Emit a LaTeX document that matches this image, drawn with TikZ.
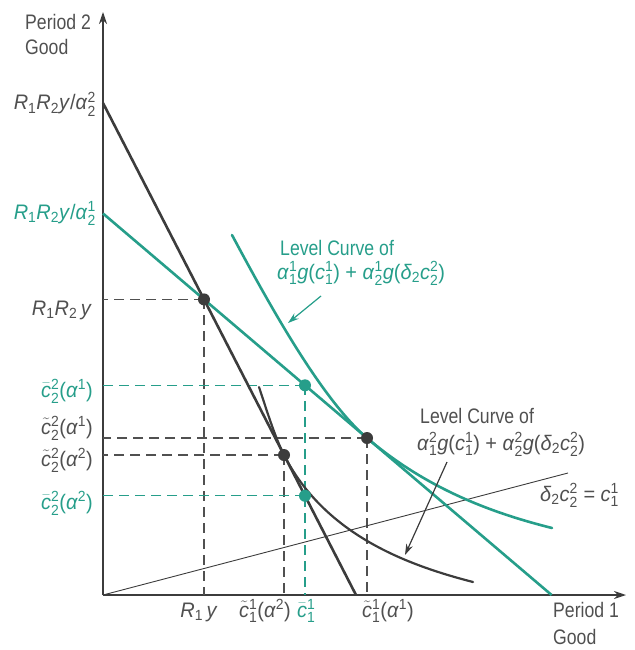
\documentclass[tikz,border=0pt]{standalone}
\usepackage{fontspec}
\usepackage{amsmath}
\setmainfont[FakeStretch=0.84]{Liberation Sans}
\newfontfamily\mfam[FakeStretch=0.95]{Liberation Sans}
\usetikzlibrary{arrows.meta}
\definecolor{tealc}{RGB}{38,158,138}
\definecolor{darkc}{RGB}{60,60,60}
\definecolor{txtc}{RGB}{80,80,80}
\newcommand{\sbx}[1]{\ensuremath{_{\text{#1}}}}
\newcommand{\sps}[2]{\ensuremath{^{\text{#1}}_{\text{#2}}}}
\newcommand{\tc}{\ensuremath{\tilde{\text{\textit{c}}}}}
\newcommand{\bc}{\ensuremath{\bar{\text{\textit{c}}}}}
\newcommand{\al}{\textit{α}}
\begin{document}
\begin{tikzpicture}[x=1pt,y=-1pt,
  lbl/.style={font=\fontsize{21}{23}\selectfont, text=txtc, inner sep=0pt},
  tlbl/.style={lbl, text=tealc},
  mlbl/.style={font=\fontsize{21}{23}\selectfont\mfam, text=txtc, inner sep=0pt},
  tmlbl/.style={mlbl, text=tealc},
  axisline/.style={draw=darkc, line width=1.3pt, -{Stealth[length=12pt,width=8pt]}},
  budget/.style={draw=darkc, line width=2.6pt},
  tbudget/.style={draw=tealc, line width=2.6pt},
  dashk/.style={draw=darkc!90, line width=1.1pt, dash pattern=on 10pt off 6pt},
  dasht/.style={draw=tealc, line width=1.1pt, dash pattern=on 10pt off 6pt},
  dotk/.style={circle, fill=darkc, minimum size=12pt, inner sep=0pt},
  dott/.style={circle, fill=tealc, minimum size=12pt, inner sep=0pt},
  pointer/.style={line width=1.2pt, -{Stealth[length=11pt,width=7pt]}}
]
\useasboundingbox (0,0) rectangle (634,650);
% axes
\coordinate (O) at (103,595);
\coordinate (Ytop) at (103,12);
\coordinate (Xend) at (626,595);
\draw[axisline] (O) -- (Ytop);
\draw[axisline] (O) -- (Xend);
% key points
\coordinate (A2) at (103,103);
\coordinate (B2) at (356,595);
\coordinate (A1) at (103,213.5);
\coordinate (B1) at (551.6,595);
\coordinate (P) at (204,299.4);
\coordinate (T1) at (367,438);
\coordinate (T2) at (284,455);
\coordinate (Q1) at (305,385.3);
\coordinate (Q2) at (305,495.8);
% dashed guides
\draw[dashk] (P) -- (P -| O);
\draw[dashk] (P) -- (P |- O);
\draw[dasht] (Q1) -- (Q1 -| O);
\draw[dasht] (Q1) -- (Q1 |- O);
\draw[dashk] (T1) -- (T1 -| O);
\draw[dashk] (T1) -- (T1 |- O);
\draw[dashk] (T2) -- (T2 -| O);
\draw[dashk] (T2) -- (T2 |- O);
\draw[dasht] (Q2) -- (Q2 -| O);
% ray
\coordinate (Rend) at (568,473);
\draw[draw=darkc, line width=0.9pt] (O) -- (Rend);
% budget lines
\draw[tbudget] (A1) -- (B1);
\draw[budget] (A2) -- (B2);
% level curves
\coordinate (C1s) at (232,235);
\coordinate (C1e) at (552,528);
\draw[draw=tealc, line width=2.6pt, line cap=round]
  (C1s) .. controls (270,306) and (322,399.7) .. (T1)
        .. controls (427,489) and (492,513) .. (C1e);
\coordinate (C2s) at (259,387);
\coordinate (C2e) at (473,582);
\draw[draw=darkc, line width=2.2pt, line cap=round]
  (C2s) .. controls (266,408) and (275,437.5) .. (T2)
        .. controls (324,533) and (403,564) .. (C2e);
% dots
\node[dotk] (dP) at (P) {};
\node[dotk] (dT1) at (T1) {};
\node[dotk] (dT2) at (T2) {};
\node[dott] (dQ1) at (Q1) {};
\node[dott] (dQ2) at (Q2) {};
% axis labels
\node[lbl, anchor=base west] (yl1) at (25,30) {Period 2};
\node[lbl, anchor=base west] (yl2) at (25,55) {Good};
\node[lbl, anchor=base west] (xl1) at (553,617) {Period 1};
\node[lbl, anchor=base west] (xl2) at (553,644) {Good};
% y labels
\node[mlbl, anchor=base east] (ya2) at (96,110) {\textit{R}\sbx{1}\textit{R}\sbx{2}\textit{y}/\al\sps{2}{2}};
\node[tmlbl, anchor=base east] (ya1) at (96,219) {\textit{R}\sbx{1}\textit{R}\sbx{2}\textit{y}/\al\sps{1}{2}};
\node[mlbl, anchor=base east] (yr) at (92,315) {\textit{R}\sbx{1}\textit{R}\sbx{2}\,\textit{y}};
\node[tmlbl, anchor=base east] (yq1) at (93,397) {\bc\sps{2}{2}(\al\ensuremath{^{\text{1}}})};
\node[mlbl, anchor=base east] (yt1) at (93,434) {\tc\sps{2}{2}(\al\ensuremath{^{\text{1}}})};
\node[mlbl, anchor=base east] (yt2) at (93,466) {\tc\sps{2}{2}(\al\ensuremath{^{\text{2}}})};
\node[tmlbl, anchor=base east] (yq2) at (93,509) {\bc\sps{2}{2}(\al\ensuremath{^{\text{2}}})};
% x labels
\node[mlbl, anchor=base] (xr) at (199,617) {\textit{R}\sbx{1}\,\textit{y}};
\node[mlbl, anchor=base east] (xt2) at (291,617) {\tc\sps{1}{1}(\al\ensuremath{^{\text{2}}})};
\node[tmlbl, anchor=base west] (xq) at (297,617) {\bc\sps{1}{1}};
\node[mlbl, anchor=base west] (xt1) at (362,617) {\tc\sps{1}{1}(\al\ensuremath{^{\text{1}}})};
% level curve labels
\node[tlbl, anchor=base west] (lc1a) at (280,255) {Level Curve of};
\node[tmlbl, anchor=base west] (lc1b) at (277,279) {\al\sps{1}{1}\textit{g}(\textit{c}\sps{1}{1})\ +\ \al\sps{1}{2}\textit{g}(\textit{δ}\sbx{2}\textit{c}\sps{2}{2})};
\node[lbl, anchor=base west] (lc2a) at (420,423) {Level Curve of};
\node[mlbl, anchor=base west] (lc2b) at (417,450) {\al\sps{2}{1}\textit{g}(\textit{c}\sps{1}{1})\ +\ \al\sps{2}{2}\textit{g}(\textit{δ}\sbx{2}\textit{c}\sps{2}{2})};
\node[mlbl, anchor=base west] (ray) at (540,501) {\textit{δ}\sbx{2}\textit{c}\sps{2}{2}\ =\ \textit{c}\sps{1}{1}};
% pointers
\coordinate (p1s) at (321,296);
\coordinate (p1e) at (288,323);
\draw[pointer, draw=tealc, fill=tealc] (p1s) -- (p1e);
\coordinate (p2s) at (447,462);
\coordinate (p2e) at (405,555);
\draw[pointer, draw=darkc, fill=darkc] (p2s) -- (p2e);
\end{tikzpicture}
\end{document}
